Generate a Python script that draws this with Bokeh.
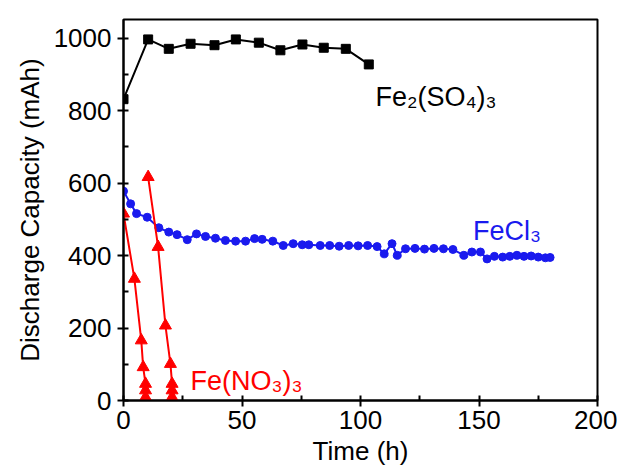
from bokeh.plotting import figure
from bokeh.models import Range1d, SingleIntervalTicker, Label
from bokeh.embed import file_html
from bokeh.resources import INLINE

# Fe2(SO4)3 series
so4_t = [0, 10.4, 19.1, 28.3, 38.4, 47.4, 57.1, 66.2, 75.5, 84.5, 93.8, 103.5]
so4_cap = [832, 997, 971, 985, 981, 997, 988, 967, 983, 974, 971, 928]

# FeCl3 series
cl_t = [0, 3, 5.5, 10, 14.9, 19.1, 22.6, 26.9, 30.8, 34.6, 38.8, 43, 47.3, 51.5, 55.3,
        58.5, 63, 67.4, 71.6, 75.4, 78.2, 83, 87, 91, 95, 99, 103, 107, 110, 113.3,
        115.5, 119, 123, 127, 131, 135, 139, 143.6, 147, 150.6, 153.4, 156.5, 160,
        163, 166, 169, 172, 175, 178, 180]
cl_cap = [578, 543, 516, 506, 477, 465, 458, 444, 460, 453, 448, 442, 440, 440, 447,
          445, 440, 428, 433, 430, 430, 428, 428, 426, 428, 427, 428, 425, 405, 433,
          401, 419, 420, 418, 420, 419, 417, 401, 410, 410, 391, 398, 396, 398, 401,
          398, 399, 396, 394, 395]

# Fe(NO3)3 series (two runs)
no3a_t = [0, 4.6, 7.5, 8.3, 9.3, 9.3, 9.3]
no3a_cap = [516, 336, 166, 92, 46, 28, 9]
no3b_t = [10.4, 14.6, 17.7, 19.8, 20.5, 20.5, 20.5]
no3b_cap = [617, 424, 207, 101, 46, 28, 9]

x_ticks_interval = 50
y_ticks_interval = 200

FONT = "Liberation Sans"

p = figure(width=617, height=474, output_backend="svg", toolbar_location=None,
           x_range=Range1d(0, 200), y_range=Range1d(0, 1052),
           min_border_left=123, min_border_right=20, min_border_top=19,
           min_border_bottom=74)
p.background_fill_color = "white"
p.border_fill_color = "white"
p.outline_line_color = "black"
p.outline_line_width = 2
p.xgrid.visible = False
p.ygrid.visible = False

p.xaxis.ticker = SingleIntervalTicker(interval=x_ticks_interval, num_minor_ticks=2)
p.yaxis.ticker = SingleIntervalTicker(interval=y_ticks_interval, num_minor_ticks=2)

for ax in (p.xaxis, p.yaxis):
    ax.axis_line_width = 2
    ax.axis_line_color = "black"
    ax.major_tick_line_width = 2
    ax.minor_tick_line_width = 2
    ax.major_tick_out = 6
    ax.major_tick_in = 0
    ax.minor_tick_in = 5
    ax.minor_tick_out = 0
    ax.major_label_text_font = FONT
    ax.major_label_text_font_size = "26px"
    ax.major_label_text_color = "black"
    ax.axis_label_text_font = FONT
    ax.axis_label_text_font_size = "26px"
    ax.axis_label_text_font_style = "normal"
    ax.axis_label_text_color = "black"

p.xaxis.axis_label = "Time (h)"
p.yaxis.axis_label = "Discharge Capacity (mAh)"
p.xaxis.major_label_standoff = 4
p.yaxis.major_label_standoff = 6
p.xaxis.axis_label_standoff = 4
p.yaxis.axis_label_standoff = 6

# Fe2(SO4)3
p.line(so4_t, so4_cap, line_color="black", line_width=2)
p.scatter(so4_t, so4_cap, marker="square", size=9, color="black")

# FeCl3
blue = "#1a1aee"
p.line(cl_t, cl_cap, line_color=blue, line_width=2)
p.scatter(cl_t, cl_cap, marker="circle", size=8, color=blue)

# Fe(NO3)3
red = "#ff0000"
p.line(no3a_t, no3a_cap, line_color=red, line_width=2)
p.scatter(no3a_t, no3a_cap, marker="triangle", size=12, color=red)
p.line(no3b_t, no3b_cap, line_color=red, line_width=2)
p.scatter(no3b_t, no3b_cap, marker="triangle", size=12, color=red)

p.add_layout(Label(x=106.3, y=837, text="Fe\u2082(SO\u2084)\u2083", text_color="black",
                   text_font=FONT, text_font_size="27px", text_baseline="alphabetic"))
p.add_layout(Label(x=147.5, y=468, text="FeCl\u2083", text_color=blue,
                   text_font=FONT, text_font_size="27px", text_baseline="alphabetic"))
p.add_layout(Label(x=28.3, y=55, text="Fe(NO\u2083)\u2083", text_color=red,
                   text_font=FONT, text_font_size="27px", text_baseline="alphabetic"))

open("out.html", "w").write(file_html(p, INLINE))
